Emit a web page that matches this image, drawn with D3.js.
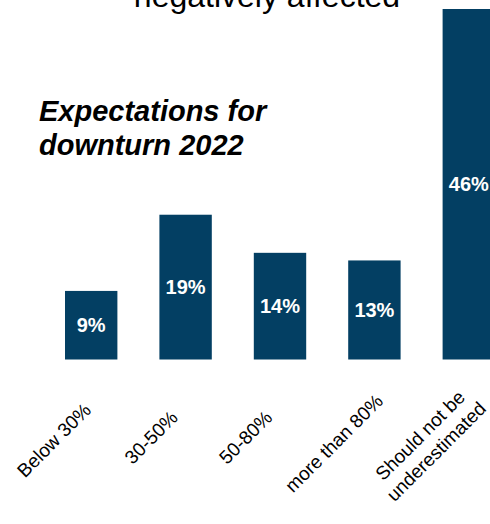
<!DOCTYPE html>
<html>
<head>
<meta charset="utf-8">
<script src="https://cdn.jsdelivr.net/npm/d3@7"></script>
<style>
  body { margin: 0; background: #fff; }
  svg { display: block; font-family: Arial, "Liberation Sans", sans-serif; }
</style>
</head>
<body>
<div id="chart"></div>
<script>
// categories (\n = line break in the axis label)
const categories = ["Below 30%", "30-50%", "50-80%", "more than 80%", "Should not be\nunderestimated"];
// share of answers, %
const values = [9, 19, 14, 13, 46];
const headTitle = "negatively affected";
const subTitle = ["Expectations for", "downturn 2022"];

const width = 490, height = 524;
const barColor = "#033f63";

const svg = d3.select("#chart").append("svg")
    .attr("width", width)
    .attr("height", height);

// x: band scale, the last bar runs past the right edge like in the slide
const x = d3.scaleBand()
    .domain(categories)
    .range([44, 516])
    .paddingInner(0.445)
    .paddingOuter(0.2225);

const y = d3.scaleLinear()
    .domain([0, d3.max(values)])
    .range([359.5, 9]);

const data = categories.map((c, i) => ({cat: c, val: values[i]}));

// top title (cut off by the slide crop)
svg.append("text")
    .attr("x", 267)
    .attr("y", 7)
    .attr("text-anchor", "middle")
    .style("font-size", "32px")
    .attr("fill", "#000")
    .text(headTitle);

// subtitle
svg.append("text")
    .attr("x", 39)
    .attr("y", 121)
    .style("font-size", "29px")
    .style("font-weight", "bold")
    .style("font-style", "italic")
    .selectAll("tspan")
    .data(subTitle)
    .enter().append("tspan")
        .attr("x", 39)
        .attr("dy", (d, i) => i === 0 ? 0 : 34)
        .text(d => d);

// bars
svg.append("g")
    .selectAll("rect")
    .data(data)
    .enter().append("rect")
        .attr("x", d => x(d.cat))
        .attr("y", d => y(d.val))
        .attr("width", x.bandwidth())
        .attr("height", d => y(0) - y(d.val))
        .attr("fill", barColor);

// value labels, centered in the bar
svg.append("g")
    .selectAll("text")
    .data(data)
    .enter().append("text")
        .attr("x", d => x(d.cat) + x.bandwidth() / 2)
        .attr("y", d => (y(d.val) + y(0)) / 2)
        .attr("dy", "0.36em")
        .attr("text-anchor", "middle")
        .attr("fill", "#fff")
        .style("font-size", "20px")
        .style("font-weight", "bold")
        .text(d => d.val + "%");

// category labels rotated -45deg
// pivot below-left of the bar; ~63% of the label runs before it
const fs = 19;
const labels = svg.append("g")
    .selectAll("g")
    .data(data)
    .enter().append("g")
        .attr("transform", d => `translate(${x(d.cat) + x.bandwidth() / 2 - 28.5},431) rotate(-45)`);

labels.each(function (d) {
    const lines = d.cat.split("\n");
    const t = d3.select(this).append("text")
        .style("font-size", fs + "px")
        .attr("fill", "#000")
        .attr("text-anchor", "middle");
    lines.forEach((l, i) => {
        t.append("tspan")
            .attr("x", 0)
            .attr("dy", i === 0 ? "0.36em" : "1.2em")
            .text(l);
    });
    const w = t.node().getBBox().width;
    t.selectAll("tspan").attr("x", -0.133 * w);
    t.attr("transform", `translate(0,${-(lines.length - 1) * 0.6 * fs})`);
});
</script>
</body>
</html>
